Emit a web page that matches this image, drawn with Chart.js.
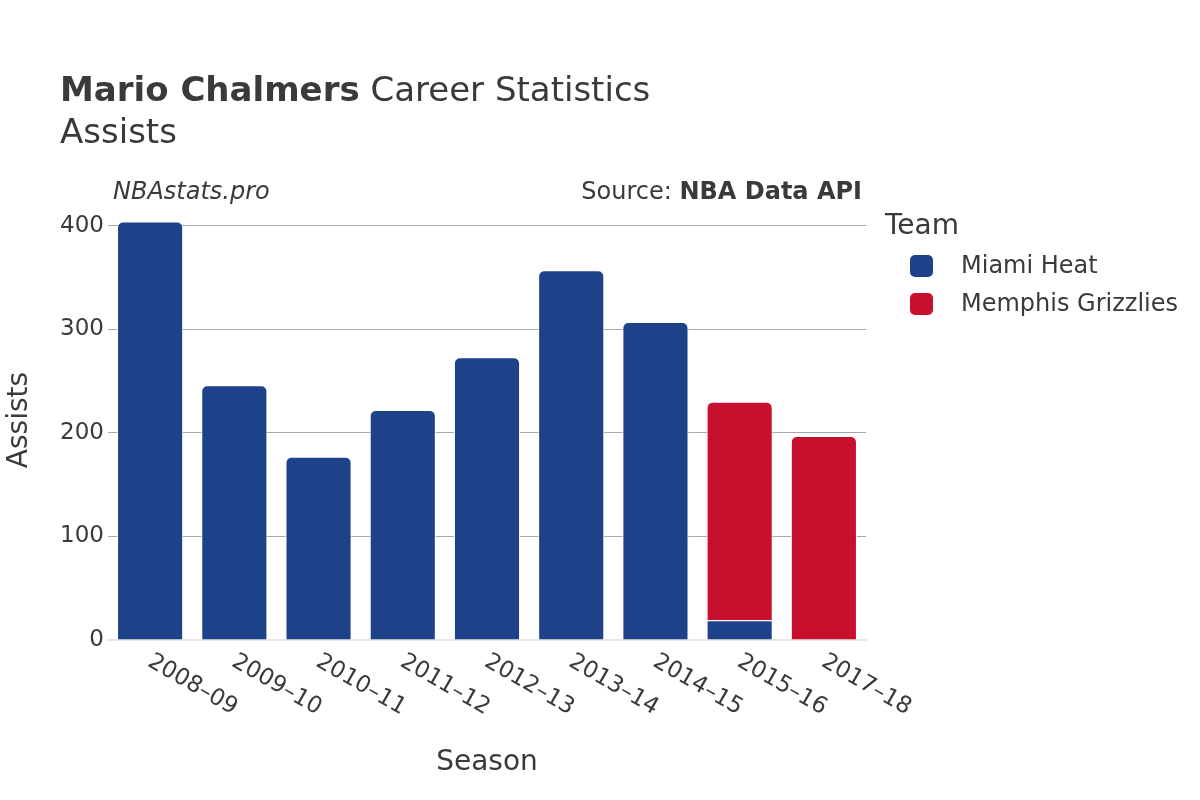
<!DOCTYPE html>
<html><head><meta charset="utf-8">
<script src="https://cdn.jsdelivr.net/npm/chart.js@4"></script>
<style>html,body{margin:0;padding:0;background:#fff}#wrap{width:1200px;height:800px}</style>
</head><body><div id="wrap"><canvas id="c" width="1200" height="800"></canvas></div>
<script>
const seasons = ["2008–09","2009–10","2010–11","2011–12","2012–13","2013–14","2014–15","2015–16","2017–18"];
const miamiHeat = [404,246,177,222,273,357,307,19,null];
const memphisGrizzlies = [null,null,null,null,null,null,null,211,197];
const yTicks = [0,100,200,300,400];
const teamNames = ["Miami Heat","Memphis Grizzlies"];
const teamColors = ["#1d428a","#c8102e"];

const FONT = "'DejaVu Sans', sans-serif";
const TXT = "#3a3a3a";

const deco = {
  id: 'deco',
  afterDraw(chart) {
    const ctx = chart.ctx;
    const xs = chart.scales.x;
    ctx.save();
    ctx.fillStyle = TXT;
    ctx.textBaseline = 'alphabetic';
    // title
    ctx.textAlign = 'left';
    ctx.font = "bold 34px " + FONT;
    const t1 = "Mario Chalmers";
    ctx.fillText(t1, 60, 101);
    const w1 = ctx.measureText(t1).width;
    ctx.font = "34px " + FONT;
    ctx.fillText(" Career Statistics", 60 + w1, 101);
    ctx.fillText("Assists", 60, 143);
    // credits
    ctx.font = "italic 24px " + FONT;
    ctx.fillText("NBAstats.pro", 113, 199);
    ctx.textAlign = 'right';
    ctx.font = "bold 24px " + FONT;
    const src = "NBA Data API";
    ctx.fillText(src, 862, 199);
    const ws = ctx.measureText(src).width;
    ctx.font = "24px " + FONT;
    ctx.fillText("Source: ", 862 - ws, 199);
    // axis titles
    ctx.textAlign = 'center';
    ctx.font = "28px " + FONT;
    ctx.fillText("Season", (chart.chartArea.left + chart.chartArea.right) / 2, 770);
    ctx.save();
    ctx.translate(27, 420);
    ctx.rotate(-Math.PI / 2);
    ctx.fillText("Assists", 0, 0);
    ctx.restore();
    // x tick labels rotated
    ctx.font = "23px " + FONT;
    ctx.textAlign = 'left';
    ctx.textBaseline = 'top';
    seasons.forEach((s, i) => {
      const x = xs.getPixelForTick(i);
      ctx.save();
      ctx.translate(x + 5, 650);
      ctx.rotate(Math.PI / 6);
      ctx.fillText(s, 0, 0);
      ctx.restore();
    });
    // legend
    ctx.textBaseline = 'middle';
    ctx.textAlign = 'left';
    ctx.font = "28px " + FONT;
    ctx.fillText("Team", 885, 227);
    ctx.font = "24px " + FONT;
    chart.data.datasets.forEach((ds, i) => {
      const y = 266 + i * 38;
      ctx.fillStyle = ds.backgroundColor;
      ctx.beginPath();
      ctx.roundRect(910, y - 11, 23, 22, 5);
      ctx.fill();
      ctx.fillStyle = TXT;
      ctx.fillText(ds.label, 961, y + 1);
    });
    ctx.restore();
  }
};

new Chart(document.getElementById('c'), {
  type: 'bar',
  data: {
    labels: seasons,
    datasets: [
      { label: teamNames[0], data: miamiHeat, backgroundColor: teamColors[0], borderColor: '#ffffff', borderWidth: 1, borderRadius: 6, borderSkipped: 'start' },
      { label: teamNames[1], data: memphisGrizzlies, backgroundColor: teamColors[1], borderColor: '#ffffff', borderWidth: 1, borderRadius: 6, borderSkipped: 'start' }
    ]
  },
  options: {
    responsive: false,
    animation: false,
    layout: { padding: { left: 0, right: 334, top: 205, bottom: 152 } },
    plugins: { legend: { display: false }, title: { display: false }, tooltip: { enabled: false } },
    datasets: { bar: { categoryPercentage: 1, barPercentage: 0.785 } },
    scales: {
      x: {
        stacked: true,
        grid: { display: false },
        border: { display: true, color: '#e6e6e6', width: 2 },
        ticks: { display: false }
      },
      y: {
        stacked: true,
        min: 0, max: 420,
        afterBuildTicks(scale) { scale.ticks = yTicks.map(v => ({ value: v })); },
        afterFit(scale) { scale.width = 108; },
        grid: { color: '#a8a8a8', lineWidth: 1, drawTicks: false, tickLength: 0 },
        border: { display: false },
        ticks: { color: TXT, font: { family: FONT, size: 23 }, padding: 4 }
      }
    }
  },
  plugins: [deco]
});
</script></body></html>
